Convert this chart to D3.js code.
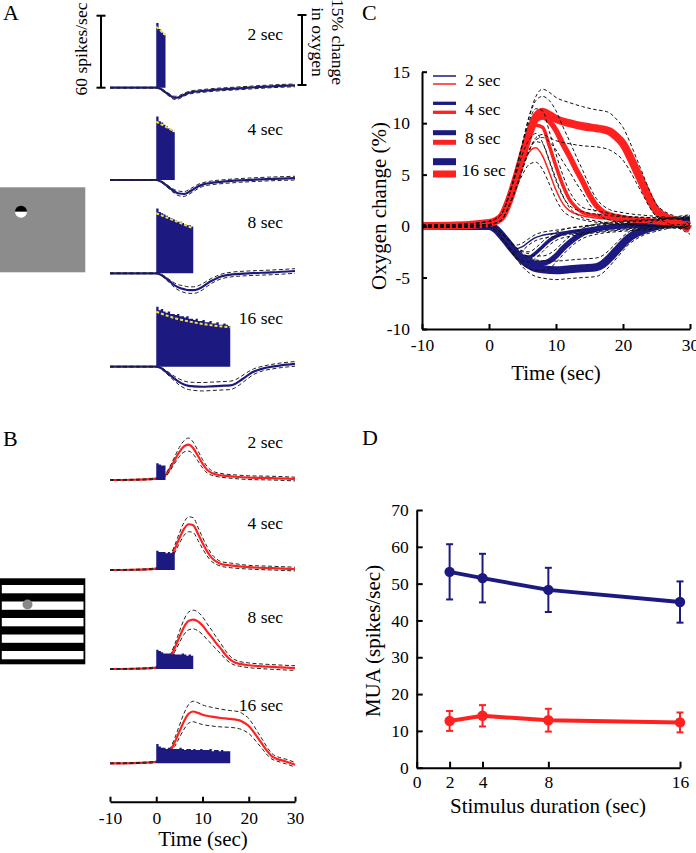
<!DOCTYPE html>
<html><head><meta charset="utf-8">
<script src="https://cdn.jsdelivr.net/npm/d3@7"></script>
<style>
body{margin:0;background:#fff}
svg{display:block}
text{font-family:"Liberation Serif","Times New Roman",Tinos,serif;fill:#000}
</style>
</head><body>
<svg id="chart" width="696" height="853" font-family="Liberation Serif, Times New Roman, serif"></svg>
<script>
// ---------------- DATA ----------------
const durations = [2, 4, 8, 16];
const durLabels = ["2 sec", "4 sec", "8 sec", "16 sec"];
const timeTicks = [-10, 0, 10, 20, 30];
const oxyTicks = [-10, -5, 0, 5, 10, 15];
const muaTicks = [0, 10, 20, 30, 40, 50, 60, 70];
const durTicks = [0, 2, 4, 8, 16];

// oxygen time courses: [time (s), % change, SEM]
const oxyBlue2 = [[-10,0,0.1],[-5,0,0.1],[0,0,0.1],[1,-0.3,0.15],[2,-1,0.2],[3,-1.7,0.3],[4,-2.2,0.35],[5,-2.0,0.35],[6,-1.5,0.3],[7,-1.1,0.3],[8,-0.9,0.3],[10,-0.7,0.3],[12,-0.5,0.3],[15,-0.3,0.3],[20,0,0.3],[25,0.3,0.3],[30,0.5,0.3]];
const oxyBlue4 = [[-10,0,0.1],[-5,0,0.1],[0,0,0.1],[1,-0.3,0.15],[2,-1,0.2],[3,-1.8,0.3],[4,-2.5,0.4],[5,-2.9,0.5],[6,-3.0,0.5],[7,-2.6,0.5],[8,-2.0,0.5],[9,-1.4,0.45],[10,-1.0,0.4],[12,-0.6,0.4],[14,-0.4,0.4],[18,-0.1,0.4],[24,0.2,0.4],[30,0.4,0.4]];
const oxyBlue8 = [[-10,0,0.1],[-5,0,0.1],[0,0,0.1],[1,-0.3,0.15],[2,-1,0.25],[3,-1.8,0.35],[4,-2.6,0.5],[5,-3.1,0.6],[6,-3.4,0.7],[7,-3.6,0.7],[8,-3.6,0.7],[9,-3.4,0.7],[10,-2.9,0.65],[11,-2.2,0.6],[12,-1.6,0.55],[13,-1.1,0.5],[14,-0.7,0.5],[16,-0.3,0.5],[20,0,0.5],[25,0.2,0.5],[30,0.5,0.5]];
const oxyBlue16 = [[-10,0,0.1],[-5,0,0.1],[0,0,0.1],[1,-0.3,0.15],[2,-1,0.25],[3,-1.8,0.4],[4,-2.6,0.5],[5,-3.3,0.65],[6,-3.8,0.75],[7,-4.1,0.8],[8,-4.2,0.85],[10,-4.3,0.9],[12,-4.2,0.9],[14,-4.1,0.9],[16,-4.0,0.9],[17,-3.7,0.85],[18,-3.1,0.8],[19,-2.4,0.75],[20,-1.7,0.7],[21,-1.1,0.6],[22,-0.7,0.55],[23,-0.4,0.5],[25,0,0.5],[27,0.3,0.5],[30,0.6,0.5]];
const oxyRed2 = [[-10,0,0.1],[-5,0.05,0.1],[0,0.3,0.15],[1,0.5,0.2],[2,1,0.3],[3,2.5,0.5],[4,4.3,0.7],[5,6,1],[6,7.2,1.2],[7,7.6,1.4],[8,6.8,1.3],[9,5.2,1.1],[10,3.5,0.9],[11,2.2,0.7],[12,1.5,0.5],[14,1.0,0.4],[17,0.7,0.4],[20,0.5,0.4],[25,0.4,0.4],[30,0.2,0.4]];
const oxyRed4 = [[-10,0,0.1],[-5,0.05,0.1],[0,0.3,0.15],[1,0.5,0.2],[2,1,0.3],[3,2.5,0.5],[4,4.5,0.8],[5,6.8,1.1],[6,8.8,1.4],[7,9.8,1.6],[8,9.6,1.6],[9,7.8,1.4],[10,5.8,1.2],[11,4,1],[12,2.6,0.8],[13,1.8,0.6],[14,1.3,0.5],[16,1,0.5],[20,0.6,0.4],[25,0.4,0.4],[30,0.2,0.4]];
const oxyRed8 = [[-10,0,0.1],[-5,0.05,0.1],[0,0.3,0.15],[1,0.5,0.2],[2,1,0.3],[3,2.5,0.5],[4,4.5,0.8],[5,6.8,1.2],[6,9,1.6],[7,10.3,1.9],[8,10.6,2],[9,10.2,2],[10,9.3,1.9],[11,8,1.7],[12,6.8,1.5],[13,5.5,1.3],[14,4.3,1.1],[15,3,0.9],[16,2,0.7],[17,1.4,0.6],[18,1.1,0.5],[20,0.8,0.5],[24,0.5,0.5],[30,0.2,0.5]];
const oxyRed16 = [[-10,0,0.1],[-5,0.05,0.1],[0,0.3,0.15],[1,0.5,0.2],[2,1,0.3],[3,2.5,0.6],[4,4.5,0.9],[5,6.8,1.3],[6,9,1.7],[7,10.6,2],[8,11.1,2.2],[9,10.8,2.2],[10,10.4,2.1],[12,10,2],[14,9.7,1.9],[16,9.5,1.8],[17,9.4,1.8],[18,9.2,1.8],[19,8.7,1.7],[20,8,1.6],[21,6.8,1.4],[22,5.4,1.2],[23,4,1],[24,2.6,0.8],[25,1.5,0.6],[26,1,0.5],[28,0.4,0.5],[30,-0.3,0.5]];

// spike-rate histograms (0.5 s bins from stimulus onset), spikes/sec
const spikesA2 = [54,49,46,44];
const spikesA4 = [53,49,48,46,45,43,42,40];
const spikesA8 = [54,51,50,49,48,47,46,45,44,43,43,42,41,40,40,39];
const spikesA16 = [50,47,48,46,45,46,44,44,43,44,42,42,41,42,40,40,39,40,38,38,39,37,37,38,36,36,37,35,35,36,35,34];
const spikesB2 = [14,13,12,12];
const spikesB4 = [16,15,15,15,14,15,14,15];
const spikesB8 = [16,15,14,13,13,13,12,13,12,12,12,13,12,11,12,11];
const spikesB16 = [16,14,13,13,12,13,12,12,12,12,13,12,11,12,12,11,12,11,11,12,11,11,11,12,10,11,11,10,11,10,10,10];

// fitted decay of firing rate (yellow), [time, spikes/sec]
const fitA2 = [[0,50.8],[2,44]];
const fitA4 = [[0,48.6],[4,40.3]];
const fitA8 = [[0,50],[8,37.5]];
const fitA16 = [[0,45.8],[4,40.5],[8,37],[12,34.5],[16,32.8]];

// panel D: MUA vs stimulus duration
const muaBlue = [53.2, 51.5, 48.3, 45.0];
const muaBlueErr = [7.5, 6.6, 6.0, 5.6];
const muaRed = [12.7, 14.1, 12.9, 12.3];
const muaRedErr = [2.7, 2.9, 3.1, 2.7];

// ---------------- DRAWING ----------------
const BLUE = "#1c1a80", RED = "#ff2020", YELLOW = "#f2e33a";
const SERIF = "Liberation Serif, Times New Roman, serif";
const svg = d3.select("#chart");
const fmt = d => String(d);

const xAB = d3.scaleLinear().domain([-10, 30]).range([110, 295]);
const oxyAB = d3.scaleLinear().domain([0, 15]).range([0, -70]);
const spkAB = d3.scaleLinear().domain([0, 60]).range([0, -72]);
const baseA = [87.7, 180, 273.3, 366.7];
const baseB = [480, 570, 669, 763.3];
const labelYA = [40, 135, 228, 324];
const labelYB = [448, 529, 623, 711];

const oxyBlue = [oxyBlue2, oxyBlue4, oxyBlue8, oxyBlue16];
const oxyRed = [oxyRed2, oxyRed4, oxyRed8, oxyRed16];
const spikesA = [spikesA2, spikesA4, spikesA8, spikesA16];
const spikesB = [spikesB2, spikesB4, spikesB8, spikesB16];
const fitsA = [fitA2, fitA4, fitA8, fitA16];

function drawRow(base, oxy, color, spikes, dur, fit, label, ly) {
  const g = svg.append("g");
  const line = d3.line().x(d => xAB(d[0])).y(d => base + oxyAB(d[1])).curve(d3.curveMonotoneX);
  g.append("path").datum(oxy.map(d => [d[0], d[1]])).attr("d", line)
    .attr("fill", "none").attr("stroke", color).attr("stroke-width", 2.2);
  [1, -1].forEach(s => {
    g.append("path").datum(oxy.map(d => [d[0], d[1] + s * d[2]])).attr("d", line)
      .attr("fill", "none").attr("stroke", "#222").attr("stroke-width", 1)
      .attr("stroke-dasharray", "4,2.5");
  });
  const bins = spikes.map((v, i) => [i * 0.5, v]);
  bins.push([dur, spikes[spikes.length - 1]]);
  const area = d3.area().x(d => xAB(d[0])).y0(base).y1(d => base + spkAB(d[1])).curve(d3.curveStepAfter);
  g.append("path").datum(bins).attr("d", area).attr("fill", BLUE);
  if (fit) {
    const fl = d3.line().x(d => xAB(d[0])).y(d => base + spkAB(d[1])).curve(d3.curveMonotoneX);
    g.append("path").datum(fit).attr("d", fl).attr("fill", "none")
      .attr("stroke", YELLOW).attr("stroke-width", 2).attr("stroke-dasharray", "3,2");
  }
  g.append("text").attr("x", 283).attr("y", ly).attr("text-anchor", "end")
    .attr("font-size", 17.5).text(label);
}

durations.forEach((d, i) => {
  drawRow(baseA[i], oxyBlue[i], BLUE, spikesA[i], d, fitsA[i], durLabels[i], labelYA[i]);
  drawRow(baseB[i], oxyRed[i], RED, spikesB[i], d, null, durLabels[i], labelYB[i]);
});

// scale bars in A
function scaleBar(x, y0, y1) {
  svg.append("line").attr("x1", x).attr("x2", x).attr("y1", y0).attr("y2", y1).attr("stroke", "#000").attr("stroke-width", 2);
  [y0, y1].forEach(y => svg.append("line").attr("x1", x - 4.5).attr("x2", x + 4.5).attr("y1", y).attr("y2", y).attr("stroke", "#000").attr("stroke-width", 2));
}
scaleBar(101, baseA[0] + spkAB(60), baseA[0]);
scaleBar(302, 85 + oxyAB(15), 85);
svg.append("text").attr("transform", "translate(87,49) rotate(-90)").attr("text-anchor", "middle")
  .attr("font-size", 17.5).text("60 spikes/sec");
const t15 = svg.append("text").attr("transform", "translate(332,42) rotate(90)").attr("text-anchor", "middle").attr("font-size", 17.5);
t15.append("tspan").attr("x", 0).attr("dy", 0).text("15% change");
t15.append("tspan").attr("x", 0).attr("dy", 20).text("in oxygen");

function styleAxis(a) {
  a.attr("font-family", SERIF).attr("font-size", 17.5);
  a.select(".domain").attr("stroke-width", 2);
  a.selectAll(".tick line").attr("stroke-width", 2);
  a.selectAll("text").attr("font-size", 17.5).attr("font-family", SERIF);
}

// A/B time axis
const axAB = svg.append("g").attr("transform", "translate(0,801.7)")
  .call(d3.axisBottom(xAB).tickValues(timeTicks).tickFormat(fmt).tickSize(-5).tickSizeOuter(0).tickPadding(10));
styleAxis(axAB);
svg.append("text").attr("x", 203).attr("y", 846).attr("text-anchor", "middle").attr("font-size", 21).text("Time (sec)");

// stimulus icons
svg.append("rect").attr("x", 0).attr("y", 187.3).attr("width", 85.3).attr("height", 85).attr("fill", "#8c8c8c");
svg.append("path").attr("d", d3.arc()({innerRadius: 0, outerRadius: 6, startAngle: -Math.PI / 2, endAngle: Math.PI / 2}))
  .attr("transform", "translate(21,211.7)").attr("fill", "#000");
svg.append("path").attr("d", d3.arc()({innerRadius: 0, outerRadius: 6, startAngle: Math.PI / 2, endAngle: 3 * Math.PI / 2}))
  .attr("transform", "translate(21,211.7)").attr("fill", "#fff");
svg.append("rect").attr("x", 0).attr("y", 578.3).attr("width", 85.3).attr("height", 86).attr("fill", "#000");
[585, 601.5, 618, 634.5, 651].forEach(y => svg.append("rect").attr("x", 1.8).attr("y", y).attr("width", 81.7).attr("height", 8.3).attr("fill", "#fff"));
svg.append("circle").attr("cx", 27.5).attr("cy", 604.5).attr("r", 5).attr("fill", "#888");

// panel labels
[["A", 3, 20], ["B", 3, 446], ["C", 362, 20], ["D", 362, 445]].forEach(([t, x, y]) =>
  svg.append("text").attr("x", x).attr("y", y).attr("font-size", 22).text(t));

// ---------------- Panel C ----------------
const xC = d3.scaleLinear().domain([-10, 30]).range([422, 690]);
const yC = d3.scaleLinear().domain([-10, 15]).range([329, 71.7]);
const widthsC = [1.5, 3.5, 5.5, 8];
const lineC = d3.line().x(d => xC(d[0])).y(d => yC(d[1])).curve(d3.curveMonotoneX);
const gC = svg.append("g");
[3, 2, 1, 0].forEach(i => gC.append("path").datum(oxyBlue[i].map(d => [d[0], d[1]])).attr("d", lineC)
  .attr("fill", "none").attr("stroke", BLUE).attr("stroke-width", widthsC[i]).attr("stroke-linejoin", "round"));
[3, 2, 1, 0].forEach(i => gC.append("path").datum(oxyRed[i].map(d => [d[0], d[1]])).attr("d", lineC)
  .attr("fill", "none").attr("stroke", RED).attr("stroke-width", widthsC[i]).attr("stroke-linejoin", "round"));
[...oxyBlue, ...oxyRed].forEach(ser => [1, -1].forEach(s =>
  gC.append("path").datum(ser.map(d => [d[0], d[1] + s * d[2]])).attr("d", lineC)
    .attr("fill", "none").attr("stroke", "#111").attr("stroke-width", 1).attr("stroke-dasharray", "3.5,2.5")));

const axCx = svg.append("g").attr("transform", "translate(0,329)")
  .call(d3.axisBottom(xC).tickValues(timeTicks).tickFormat(fmt).tickSize(-5).tickSizeOuter(0).tickPadding(10));
const axCy = svg.append("g").attr("transform", "translate(422,0)")
  .call(d3.axisLeft(yC).tickValues(oxyTicks).tickFormat(fmt).tickSize(-5).tickSizeOuter(0).tickPadding(12));
styleAxis(axCx); styleAxis(axCy);
svg.append("text").attr("x", 556).attr("y", 380).attr("text-anchor", "middle").attr("font-size", 21).text("Time (sec)");
svg.append("text").attr("transform", "translate(386,206) rotate(-90)").attr("text-anchor", "middle").attr("font-size", 21).text("Oxygen change (%)");

// legend C
const legBlueY = [76, 103.3, 132.7, 161.7];
const legRedY = [84, 112.3, 142.3, 174];
const legTextY = [86, 115, 144, 176];
const legW = [1.5, 3.3, 5, 7];
durations.forEach((d, i) => {
  svg.append("line").attr("x1", 433).attr("x2", 456).attr("y1", legBlueY[i]).attr("y2", legBlueY[i]).attr("stroke", BLUE).attr("stroke-width", legW[i]);
  svg.append("line").attr("x1", 433).attr("x2", 456).attr("y1", legRedY[i]).attr("y2", legRedY[i]).attr("stroke", RED).attr("stroke-width", legW[i]);
  svg.append("text").attr("x", i === 3 ? 461.5 : 465).attr("y", legTextY[i]).attr("font-size", 17.5).text(durLabels[i]);
});

// ---------------- Panel D ----------------
const xD = d3.scaleLinear().domain([0, 16]).range([416.7, 680]);
const yD = d3.scaleLinear().domain([0, 70]).range([767.7, 510]);
const axDx = svg.append("g").attr("transform", "translate(0,767.7)")
  .call(d3.axisBottom(xD).tickValues(durTicks).tickFormat(fmt).tickSize(-6).tickSizeOuter(0).tickPadding(8));
const axDy = svg.append("g").attr("transform", "translate(416.7,0)")
  .call(d3.axisLeft(yD).tickValues(muaTicks).tickFormat(fmt).tickSize(-6).tickSizeOuter(0).tickPadding(8));
styleAxis(axDx); styleAxis(axDy);
svg.append("text").attr("x", 548).attr("y", 813).attr("text-anchor", "middle").attr("font-size", 21).text("Stimulus duration (sec)");
svg.append("text").attr("transform", "translate(380,641) rotate(-90)").attr("text-anchor", "middle").attr("font-size", 21).text("MUA (spikes/sec)");

function drawMua(vals, errs, color) {
  const g = svg.append("g");
  const pts = durations.map((d, i) => [d, vals[i], errs[i]]);
  g.append("path").datum(pts).attr("d", d3.line().x(d => xD(d[0])).y(d => yD(d[1])))
    .attr("fill", "none").attr("stroke", color).attr("stroke-width", 4);
  pts.forEach(p => {
    g.append("line").attr("x1", xD(p[0])).attr("x2", xD(p[0])).attr("y1", yD(p[1] - p[2])).attr("y2", yD(p[1] + p[2])).attr("stroke", color).attr("stroke-width", 2);
    [p[1] - p[2], p[1] + p[2]].forEach(v => g.append("line").attr("x1", xD(p[0]) - 3.5).attr("x2", xD(p[0]) + 3.5).attr("y1", yD(v)).attr("y2", yD(v)).attr("stroke", color).attr("stroke-width", 2));
    g.append("circle").attr("cx", xD(p[0])).attr("cy", yD(p[1])).attr("r", 5.2).attr("fill", color);
  });
}
drawMua(muaBlue, muaBlueErr, BLUE);
drawMua(muaRed, muaRedErr, RED);
</script>
</body></html>
